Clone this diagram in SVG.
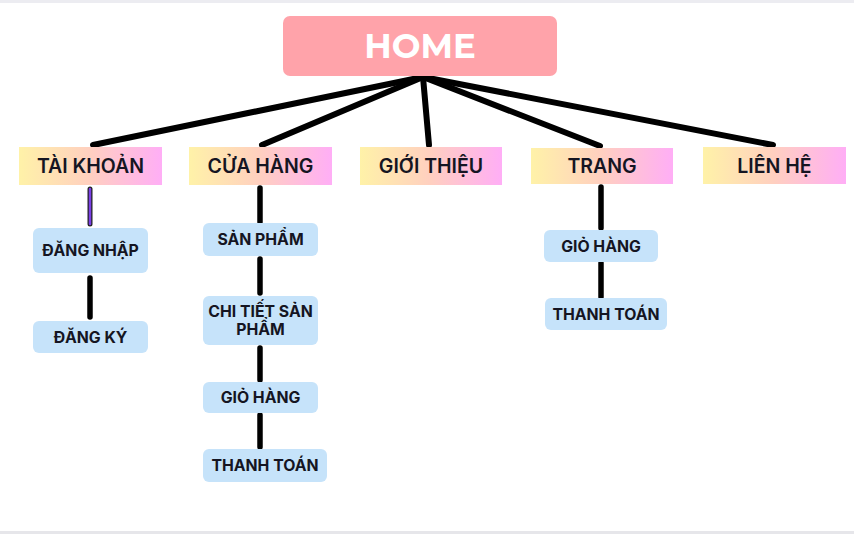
<svg xmlns="http://www.w3.org/2000/svg" width="854" height="534" viewBox="0 0 854 534">
  <defs>
    <linearGradient id="g1" x1="0" y1="0" x2="1" y2="0">
      <stop offset="0" stop-color="#FFF2A8"/>
      <stop offset="0.5" stop-color="#FFCFC0"/>
      <stop offset="1" stop-color="#FFAEF6"/>
    </linearGradient>
    <style>
      .l1 { fill: url(#g1); }
      .l2 { fill: #C6E3FA; }
      .t1 { font-family: Inter, "Open Sans", sans-serif; font-weight: 600; font-size: 19.5px; fill: #151522; text-anchor: middle; }
      .t2 { font-family: Inter, "Open Sans", sans-serif; font-weight: 700; font-size: 15.8px; fill: #151522; text-anchor: middle; }
      .c { stroke: #000; stroke-width: 6; stroke-linecap: round; fill: none; }
      .v { stroke: #000; stroke-width: 5.5; stroke-linecap: round; fill: none; }
    </style>
  </defs>
  <rect x="0" y="0" width="854" height="534" fill="#fff"/>
  <rect x="0" y="0" width="854" height="3" fill="#ECECF1"/>
  <rect x="0" y="531" width="854" height="3" fill="#E6E6EA"/>

  <g id="connectors">
    <line class="c" x1="423" y1="77" x2="93" y2="145"/>
    <line class="c" x1="423" y1="77" x2="262" y2="145"/>
    <line class="c" x1="423" y1="77" x2="429" y2="145"/>
    <line class="c" x1="423" y1="77" x2="600" y2="146"/>
    <line class="c" x1="423" y1="77" x2="773" y2="145"/>
    <line x1="90" y1="189" x2="90" y2="224" stroke="#222" stroke-width="5" stroke-linecap="round"/>
    <line x1="90" y1="189" x2="90" y2="224" stroke="#7A3FE6" stroke-width="2.5" stroke-linecap="round"/>
    <line class="v" x1="90" y1="278" x2="90" y2="317"/>
    <line class="v" x1="260" y1="188" x2="260" y2="222"/>
    <line class="v" x1="260" y1="259" x2="260" y2="293"/>
    <line class="v" x1="260" y1="348" x2="260" y2="380"/>
    <line class="v" x1="260" y1="415" x2="260" y2="447"/>
    <line class="v" x1="601" y1="187" x2="601" y2="228"/>
    <line class="v" x1="601" y1="263" x2="601" y2="297"/>
  </g>

  <g id="home">
    <rect x="283" y="16" width="274" height="60" rx="7" fill="#FFA3AA"/>
    <text x="420" y="58" font-family="Montserrat, 'Open Sans', sans-serif" font-weight="700" font-size="34" fill="#fff" text-anchor="middle">HOME</text>
  </g>

  <g id="tai-khoan">
    <rect class="l1" x="19" y="147" width="143" height="38"/>
    <text class="t1" x="90.5" y="173">TÀI KHOẢN</text>
  </g>
  <g id="cua-hang">
    <rect class="l1" x="189" y="147" width="143" height="38"/>
    <text class="t1" x="260.5" y="173">CỬA HÀNG</text>
  </g>
  <g id="gioi-thieu">
    <rect class="l1" x="360" y="147" width="142" height="38"/>
    <text class="t1" x="431" y="173">GIỚI THIỆU</text>
  </g>
  <g id="trang">
    <rect class="l1" x="531" y="148" width="142" height="36"/>
    <text class="t1" x="602" y="173">TRANG</text>
  </g>
  <g id="lien-he">
    <rect class="l1" x="703" y="147" width="143" height="37"/>
    <text class="t1" x="774.5" y="173">LIÊN HỆ</text>
  </g>

  <g id="dang-nhap">
    <rect class="l2" x="33" y="228" width="115" height="45" rx="6"/>
    <text class="t2" x="90.5" y="256">ĐĂNG NHẬP</text>
  </g>
  <g id="dang-ky">
    <rect class="l2" x="33" y="321" width="115" height="32" rx="6"/>
    <text class="t2" x="90.5" y="343">ĐĂNG KÝ</text>
  </g>

  <g id="san-pham">
    <rect class="l2" x="203" y="223" width="115" height="33" rx="6"/>
    <text class="t2" x="260.5" y="245">SẢN PHẨM</text>
  </g>
  <g id="chi-tiet-san-pham">
    <rect class="l2" x="203" y="296" width="115" height="49" rx="6"/>
    <text class="t2" x="260.5" y="317">CHI TIẾT SẢN</text>
    <text class="t2" x="260.5" y="335">PHẨM</text>
  </g>
  <g id="gio-hang-1">
    <rect class="l2" x="203" y="382" width="115" height="31" rx="6"/>
    <text class="t2" x="260.5" y="403">GIỎ HÀNG</text>
  </g>
  <g id="thanh-toan-1">
    <rect class="l2" x="203" y="449" width="124" height="33" rx="6"/>
    <text class="t2" x="265" y="471">THANH TOÁN</text>
  </g>

  <g id="gio-hang-2">
    <rect class="l2" x="544" y="230" width="114" height="32" rx="6"/>
    <text class="t2" x="601" y="252">GIỎ HÀNG</text>
  </g>
  <g id="thanh-toan-2">
    <rect class="l2" x="545" y="298" width="122" height="32" rx="6"/>
    <text class="t2" x="606" y="320">THANH TOÁN</text>
  </g>
</svg>
